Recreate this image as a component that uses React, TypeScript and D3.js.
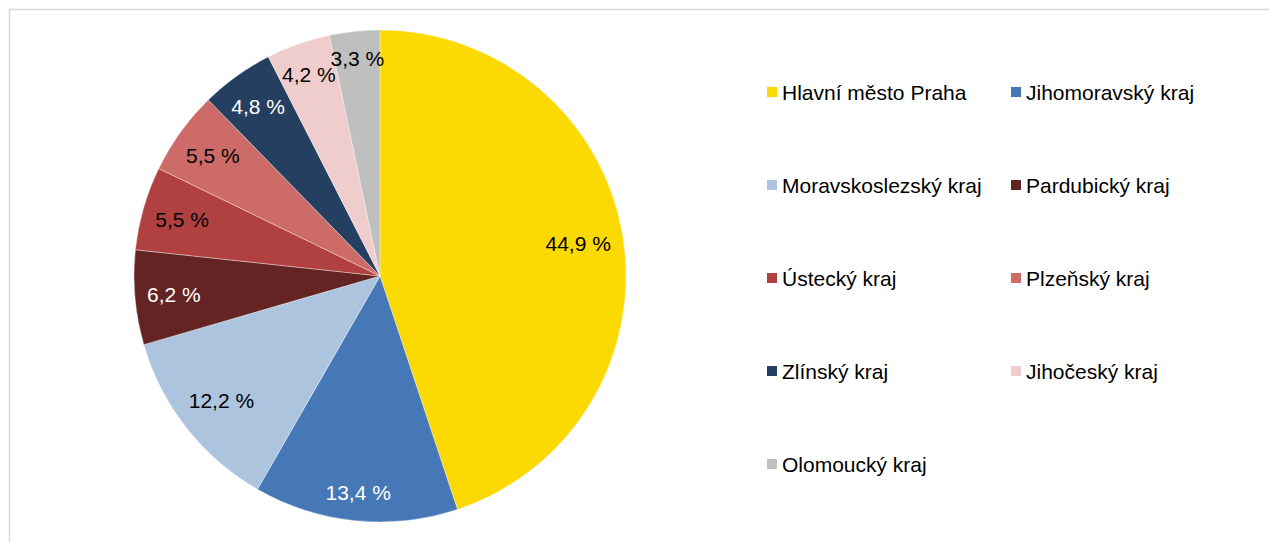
import React from "react";
import * as d3 from "d3";

const categories = [
  "Hlavní město Praha",
  "Jihomoravský kraj",
  "Moravskoslezský kraj",
  "Pardubický kraj",
  "Ústecký kraj",
  "Plzeňský kraj",
  "Zlínský kraj",
  "Jihočeský kraj",
  "Olomoucký kraj",
];
const values = [44.9, 13.4, 12.2, 6.2, 5.5, 5.5, 4.8, 4.2, 3.3];
const colors = [
  "#fcd900",
  "#4677b6",
  "#adc4df",
  "#632423",
  "#b14140",
  "#cc6b67",
  "#253f61",
  "#efcdcd",
  "#bfbfbf",
];
const labelColors = [
  "#000000",
  "#ffffff",
  "#000000",
  "#ffffff",
  "#000000",
  "#000000",
  "#ffffff",
  "#000000",
  "#000000",
];

const W = 1269;
const H = 542;
const FONT = "Liberation Sans, Arial, sans-serif";
const FS = 21;

function measure(text: string): number {
  if (typeof document === "undefined") return text.length * FS * 0.55;
  const c = document.createElement("canvas").getContext("2d");
  if (!c) return text.length * FS * 0.55;
  c.font = `${FS}px ${FONT}`;
  return c.measureText(text).width;
}

export default function App() {
  const cx = 380;
  const cy = 276;
  const r = 246;
  const pie = d3.pie<number>().sort(null).value((d) => d)(values);
  const arc = d3.arc<d3.PieArcDatum<number>>().innerRadius(0).outerRadius(r);
  const fmt = (v: number) => v.toFixed(1).replace(".", ",") + " %";

  const labelPos = (p: d3.PieArcDatum<number>, text: string) => {
    const a = (p.startAngle + p.endAngle) / 2;
    const ux = Math.sin(a);
    const uy = -Math.cos(a);
    const w = measure(text);
    const h = 24;
    const c = [Math.sign(ux) * (w / 2), Math.sign(uy) * (h / 2)];
    const D = r - 11;
    const uc = ux * c[0] + uy * c[1];
    const cc = c[0] * c[0] + c[1] * c[1];
    const t = -uc + Math.sqrt(uc * uc - cc + D * D);
    return [t * ux, t * uy];
  };

  const legX = d3.scaleOrdinal<number, number>().domain([0, 1]).range([767, 1011]);
  const legY = d3.scaleLinear().domain([0, 4]).range([92, 464]);

  return (
    <svg
      width={W}
      height={H}
      style={{ position: "absolute", left: 0, top: 0, display: "block" }}
      fontFamily={FONT}
    >
      <rect x={0} y={0} width={W} height={H} fill="#ffffff" />
      <rect x={9.5} y={9.5} width={W + 20} height={H + 20} fill="none" stroke="#d9d9d9" strokeWidth={1.5} />
      <g transform={`translate(${cx},${cy})`}>
        {pie.map((p, i) => (
          <path key={i} d={arc(p) || ""} fill={colors[i]} stroke="#ffffff" strokeWidth={0.6} strokeOpacity={0.6} />
        ))}
        {pie.map((p, i) => {
          const txt = fmt(values[i]);
          const [x, y] = labelPos(p, txt);
          return (
            <text
              key={i}
              x={x}
              y={y}
              textAnchor="middle"
              dominantBaseline="central"
              fontSize={FS}
              fill={labelColors[i]}
            >
              {txt}
            </text>
          );
        })}
      </g>
      {categories.map((c, i) => {
        const col = i % 2;
        const row = Math.floor(i / 2);
        const x = legX(col);
        const y = legY(row);
        return (
          <g key={c}>
            <rect x={x} y={y - 5} width={10} height={10} fill={colors[i]} />
            <text x={x + 15} y={y + 7.5} fontSize={FS} fill="#000000">
              {c}
            </text>
          </g>
        );
      })}
    </svg>
  );
}
